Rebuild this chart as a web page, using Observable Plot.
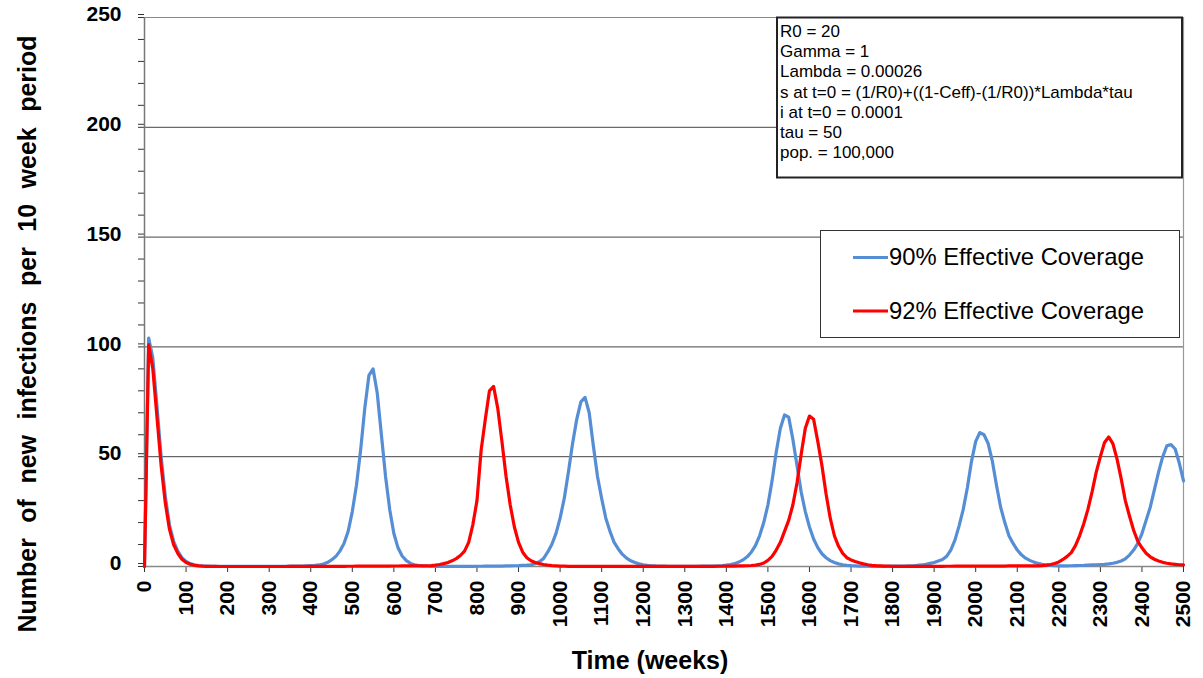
<!DOCTYPE html>
<html><head><meta charset="utf-8">
<script src="https://cdn.jsdelivr.net/npm/d3@7"></script>
<script src="https://cdn.jsdelivr.net/npm/@observablehq/plot@0.6"></script>
<style>
body{margin:0;background:#fff;}
#chart{position:relative;width:1203px;height:678px;}
</style></head><body><div id="chart"></div>
<script>
// time grid: one value per 10-week period
const weeks = d3.range(0, 2501, 10);

// 90% Effective Coverage
const blue90 = [
  0, 104, 95, 73, 50, 32, 19, 11.5, 7, 4,
  2.3, 1.3, 0.8, 0.45, 0.25, 0.15, 0.08, 0.05, 0.03, 0.02,
  0.02, 0.02, 0.02, 0.02, 0.03, 0.03, 0.04, 0.05, 0.06, 0.07,
  0.08, 0.09, 0.1, 0.11, 0.12, 0.13, 0.14, 0.15, 0.2, 0.3,
  0.4, 0.5, 0.7, 1.1, 1.8, 3, 4.5, 7, 10.5, 16,
  25, 37, 53, 72, 87, 90, 79, 60, 41, 26,
  15, 8.5, 4.8, 2.7, 1.4, 0.8, 0.45, 0.25, 0.15, 0.1,
  0.08, 0.07, 0.06, 0.06, 0.06, 0.06, 0.07, 0.08, 0.09, 0.1,
  0.11, 0.12, 0.13, 0.14, 0.15, 0.17, 0.2, 0.25, 0.3, 0.35,
  0.4, 0.5, 0.6, 0.8, 1.3, 2.2, 3.6, 6.5, 10, 15,
  22, 31, 43, 56, 67, 75, 77, 70, 55, 41,
  31, 22, 16, 11, 8, 5.5, 3.8, 2.6, 1.8, 1.2,
  0.8, 0.5, 0.35, 0.25, 0.2, 0.15, 0.12, 0.1, 0.1, 0.1,
  0.1, 0.1, 0.1, 0.12, 0.14, 0.16, 0.18, 0.2, 0.3, 0.4,
  0.6, 0.9, 1.3, 2, 3, 4.4, 6.5, 9.5, 14, 20,
  28, 39, 52, 63, 69, 68, 58, 46, 34, 25,
  18, 12.5, 8.6, 5.8, 4, 2.7, 1.8, 1.2, 0.8, 0.55,
  0.4, 0.3, 0.2, 0.15, 0.12, 0.1, 0.1, 0.1, 0.1, 0.12,
  0.14, 0.16, 0.18, 0.2, 0.25, 0.3, 0.5, 0.7, 1, 1.4,
  1.8, 2.5, 3.2, 4.6, 7.5, 12, 18.5, 26, 36, 48,
  57, 61, 60, 56, 48, 37, 27, 20, 14, 10.5,
  7.5, 5.3, 3.8, 2.8, 2, 1.4, 1, 0.7, 0.5, 0.35,
  0.3, 0.3, 0.3, 0.35, 0.4, 0.45, 0.5, 0.6, 0.7, 0.8,
  0.9, 1, 1.2, 1.5, 1.9, 2.5, 3.5, 5.2, 7.5, 10.5,
  15, 21, 27, 35, 43, 50, 55, 55.5, 53.5, 47,
  39
];

// 92% Effective Coverage
const red92 = [
  0, 101, 90, 68, 46, 29, 17, 10, 6, 3.3,
  1.8, 1, 0.55, 0.3, 0.15, 0.08, 0.04, 0.02, 0.01, 0.01,
  0.01, 0.01, 0.01, 0.01, 0.01, 0.01, 0.01, 0.01, 0.01, 0.01,
  0.01, 0.01, 0.01, 0.01, 0.01, 0.02, 0.02, 0.02, 0.03, 0.03,
  0.03, 0.04, 0.04, 0.05, 0.06, 0.07, 0.08, 0.09, 0.1, 0.12,
  0.12, 0.13, 0.14, 0.15, 0.16, 0.17, 0.18, 0.19, 0.2, 0.21,
  0.22, 0.23, 0.25, 0.26, 0.27, 0.28, 0.3, 0.31, 0.33, 0.4,
  0.6, 0.9, 1.3, 1.8, 2.6, 3.6, 5, 7, 11, 19,
  30, 53, 67, 80, 82, 72, 57, 41, 28, 18,
  11, 6.5, 4, 2.6, 1.8, 1.3, 0.9, 0.6, 0.4, 0.3,
  0.2, 0.15, 0.1, 0.08, 0.06, 0.05, 0.04, 0.03, 0.03, 0.02,
  0.02, 0.02, 0.02, 0.02, 0.02, 0.02, 0.02, 0.02, 0.02, 0.02,
  0.02, 0.02, 0.02, 0.03, 0.03, 0.03, 0.04, 0.04, 0.05, 0.05,
  0.06, 0.06, 0.07, 0.08, 0.08, 0.09, 0.1, 0.1, 0.12, 0.12,
  0.13, 0.15, 0.2, 0.25, 0.3, 0.35, 0.45, 0.65, 0.95, 1.6,
  2.8, 4.6, 7.5, 11, 16, 21, 28, 38, 51, 63,
  68.5, 67, 57, 46, 33, 22, 14, 9.2, 6, 4,
  3, 2.3, 1.7, 1.2, 0.8, 0.55, 0.4, 0.3, 0.2, 0.15,
  0.1, 0.08, 0.06, 0.05, 0.05, 0.05, 0.05, 0.05, 0.06, 0.07,
  0.08, 0.09, 0.1, 0.11, 0.12, 0.13, 0.14, 0.15, 0.17, 0.2,
  0.2, 0.2, 0.2, 0.2, 0.2, 0.2, 0.2, 0.2, 0.25, 0.25,
  0.25, 0.25, 0.25, 0.25, 0.25, 0.3, 0.4, 0.6, 0.9, 1.4,
  2.1, 3.2, 4.6, 6.3, 9.5, 14, 19.5, 26, 34, 43,
  50, 56.5, 59, 56, 49, 40, 30, 23, 16.5, 11.5,
  8.5, 6, 4.4, 3.3, 2.5, 1.9, 1.5, 1.2, 1, 0.8,
  0.7
];

const seriesNames = ["90% Effective Coverage", "92% Effective Coverage"];
const seriesColors = ["#558ed5", "#ff0000"];
const yTicks = [0, 50, 100, 150, 200, 250];
const yMinorTicks = d3.range(0, 251, 10);
const xTicks = d3.range(0, 2501, 100);
const notes = [
  "R0 = 20",
  "Gamma = 1",
  "Lambda = 0.00026",
  "s at t=0 = (1/R0)+((1-Ceff)-(1/R0))*Lambda*tau",
  "i at t=0 = 0.0001",
  "tau = 50",
  "pop. = 100,000"
];
const xLabel = "Time (weeks)";
const yLabel = "Number of new infections per 10 week period";

const blueData = weeks.map((w, i) => ({week: w, value: blue90[i], series: seriesNames[0]}));
const redData = weeks.map((w, i) => ({week: w, value: red92[i], series: seriesNames[1]}));

const FONT = "'Liberation Sans', Arial, sans-serif";

const svg = Plot.plot({
  width: 1203,
  height: 678,
  marginLeft: 144,
  marginRight: 20,
  marginTop: 17,
  marginBottom: 112,
  style: {fontFamily: FONT, background: "#fff", color: "#000"},
  x: {domain: [0, 2500], label: null},
  y: {domain: [0, 250], label: null},
  color: {domain: seriesNames, range: seriesColors},
  marks: [
    Plot.gridY(yTicks.slice(1, 5), {stroke: "#444", strokeOpacity: 1, strokeWidth: 1}),
    Plot.gridY([250], {stroke: "#888", strokeOpacity: 1, strokeWidth: 1.2}),
    Plot.ruleX([2500], {stroke: "#999", strokeWidth: 1.2}),
    Plot.axisY(yMinorTicks, {tickSize: 6, tickFormat: () => "", stroke: "#333", label: null}),
    Plot.axisY(yTicks, {tickSize: 6, tickPadding: 17, fontSize: 21, fontWeight: "bold", dy: -3, stroke: "#333", label: null}),
    Plot.axisX(xTicks, {tickSize: 6, tickPadding: 8, tickRotate: -90, tickFormat: d => String(d), fontSize: 21, fontWeight: "bold", stroke: "#333", label: null}),
    Plot.ruleY([0], {stroke: "#888", strokeWidth: 1.5}),
    Plot.ruleX([0], {stroke: "#777", strokeWidth: 1.5}),
    Plot.line(blueData, {x: "week", y: "value", stroke: "series", strokeWidth: 3.2}),
    Plot.line(redData, {x: "week", y: "value", stroke: "series", strokeWidth: 3.2})
  ]
});

const root = d3.select(svg);

// parameter box
const nb = root.append("g");
nb.append("rect").attr("x", 777).attr("y", 17.5).attr("width", 405).attr("height", 160)
  .attr("fill", "#fff").attr("stroke", "#222").attr("stroke-width", 2);
notes.forEach((t, i) => {
  nb.append("text").attr("x", 780).attr("y", 37 + i * 20.2).attr("text-anchor", "start")
    .attr("font-family", FONT).attr("font-size", 17).attr("fill", "#000").text(t);
});

// legend box
const lg = root.append("g");
lg.append("rect").attr("x", 820.5).attr("y", 230.5).attr("width", 359).attr("height", 107)
  .attr("fill", "#fff").attr("stroke", "#333").attr("stroke-width", 1);
seriesNames.forEach((name, i) => {
  const cy = 257.5 + i * 53.5;
  lg.append("line").attr("x1", 853).attr("x2", 888).attr("y1", cy).attr("y2", cy)
    .attr("stroke", seriesColors[i]).attr("stroke-width", 3);
  lg.append("text").attr("x", 889).attr("y", cy + 7.5).attr("text-anchor", "start")
    .attr("font-family", FONT).attr("font-size", 23.8).attr("fill", "#000").text(name);
});

// axis titles
root.append("text").attr("x", 650).attr("y", 669).attr("text-anchor", "middle")
  .attr("font-family", FONT).attr("font-size", 25).attr("font-weight", "bold").attr("fill", "#000").text(xLabel);
root.append("text").attr("transform", "translate(36,334) rotate(-90)").attr("text-anchor", "middle")
  .attr("font-family", FONT).attr("font-size", 25).attr("font-weight", "bold").attr("word-spacing", 8.5)
  .attr("fill", "#000").text(yLabel);

document.getElementById("chart").appendChild(svg);
</script>
</body></html>
